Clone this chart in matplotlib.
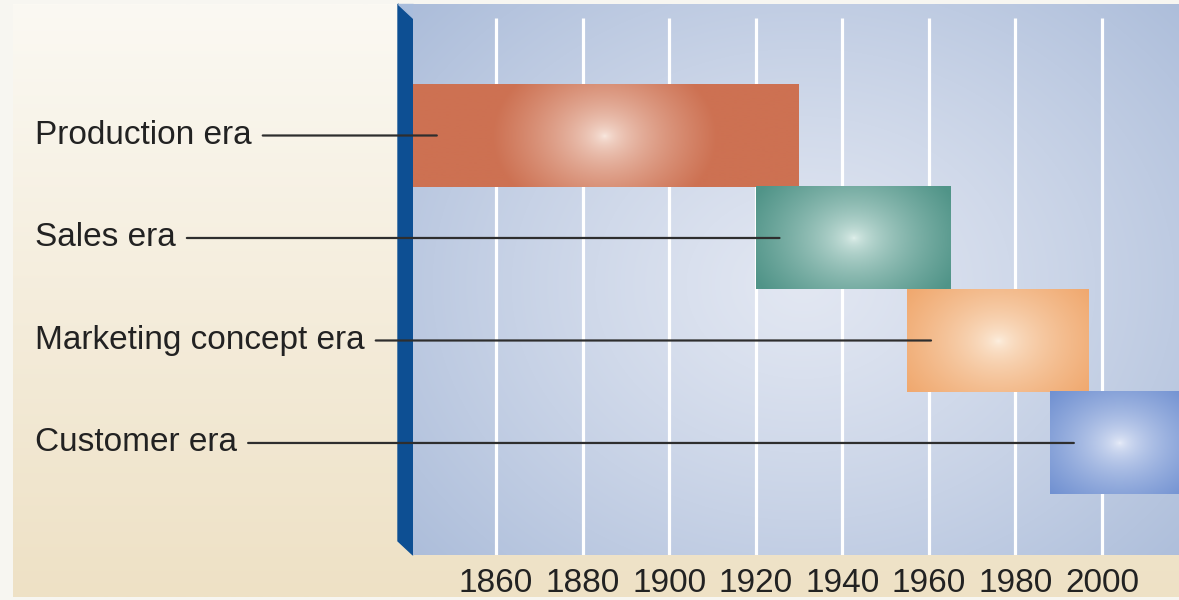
import numpy as np
import matplotlib.pyplot as plt
from matplotlib import transforms
from matplotlib.patches import Polygon

plt.rcParams['font.family'] = ['Liberation Sans', 'DejaVu Sans']

# eras of marketing, years on the x axis
eras = ['Production era', 'Sales era', 'Marketing concept era', 'Customer era']
starts = [1840, 1920, 1955, 1988]
ends = [1930, 1965, 1997, 2020]
colors = [(205, 113, 82), (80, 148, 136), (240, 168, 110), (100, 135, 205)]
glows = [(250, 236, 228), (228, 242, 238), (253, 242, 228), (236, 240, 250)]
years = [1860, 1880, 1900, 1920, 1940, 1960, 1980, 2000]

W, H = 1179, 600
fig = plt.figure(figsize=(W / 100, H / 100), dpi=100)
fig.patch.set_facecolor('#f7f6f1')

# cream backdrop and the 3d wall, in figure pixels
bg = fig.add_axes([0, 0, 1, 1])
bg.axis('off')
top = np.array([251, 249, 243]) / 255
bot = np.array([238, 225, 197]) / 255
t = np.linspace(0, 1, 256)[:, None, None]
bg.imshow(top * (1 - t) + bot * t, extent=(13, W, 597, 4), aspect='auto',
          interpolation='bilinear')
bg.add_patch(Polygon([(398, 4), (413, 18), (413, 555), (398, 541)],
                     closed=True, color='#0d4f93'))
bg.add_patch(Polygon([(398, 4), (413, 4), (413, 18)], closed=True, color='#a9bddc'))
bg.set_xlim(0, W)
bg.set_ylim(H, 0)

ax = fig.add_axes([413 / W, (H - 555) / H, (W - 413) / W, (555 - 4) / H])
x0, x1 = 1840.83, 2017.79
y_bot, y_top = 4.093, -1.283
px_yr = (W - 413) / (x1 - x0)
px_row = 551 / (y_bot - y_top)

# plot area: soft radial light
ny, nx = 551, 766
yy, xx = np.mgrid[0:ny, 0:nx]
d = np.sqrt(((xx - 390) / 520) ** 2 + ((yy - 280) / 420) ** 2)
t = np.clip(d, 0, 1)[..., None] ** 1.2
c_in = np.array([226, 231, 242]) / 255
c_out = np.array([172, 189, 218]) / 255
ax.imshow(c_in * (1 - t) + c_out * t, extent=(x0, x1, y_bot, y_top),
          aspect='auto', zorder=0, interpolation='bilinear')

ax.vlines(years, y_top + 14 / px_row, y_bot, colors='white', lw=2.3, zorder=1)

for i, (s, e, col, gl) in enumerate(zip(starts, ends, colors, glows)):
    wpx = int((e - s) * px_yr)
    hpx = int(px_row)
    yy, xx = np.mgrid[0:hpx, 0:wpx]
    d = np.sqrt(((xx - wpx / 2) / 112) ** 2 + ((yy - hpx / 2) / 85) ** 2)
    t = np.clip(d, 0, 1)[..., None] ** 0.6
    img = np.array(gl) / 255 * (1 - t) + np.array(col) / 255 * t
    ax.imshow(img, extent=(s, e, i + 0.5, i - 0.5), aspect='auto',
              zorder=2, interpolation='bilinear')

# era labels with leader lines into the bars
lab_tr = transforms.blended_transform_factory(fig.transFigure, ax.transData)
for i, (name, s) in enumerate(zip(eras, starts)):
    ax.annotate(name, xy=(max(s, x0) + 5.5, i), xytext=(35 / W, i),
                textcoords=lab_tr, ha='left', va='center', fontsize=24,
                color='#222222', annotation_clip=False, zorder=5,
                arrowprops=dict(arrowstyle='-', color='#2e2e2e', lw=1.6,
                                shrinkA=6, shrinkB=0, relpos=(1, 0.5)))

ax.set_xlim(x0, x1)
ax.set_ylim(y_bot, y_top)
ax.set_xticks(years)
ax.set_xticklabels([str(y) for y in years])
ax.set_yticks([])
ax.tick_params(axis='x', length=0, labelsize=24, pad=9, colors='#222222')
for sp in ax.spines.values():
    sp.set_visible(False)

fig.savefig('out.png', dpi=100, facecolor=fig.get_facecolor())
